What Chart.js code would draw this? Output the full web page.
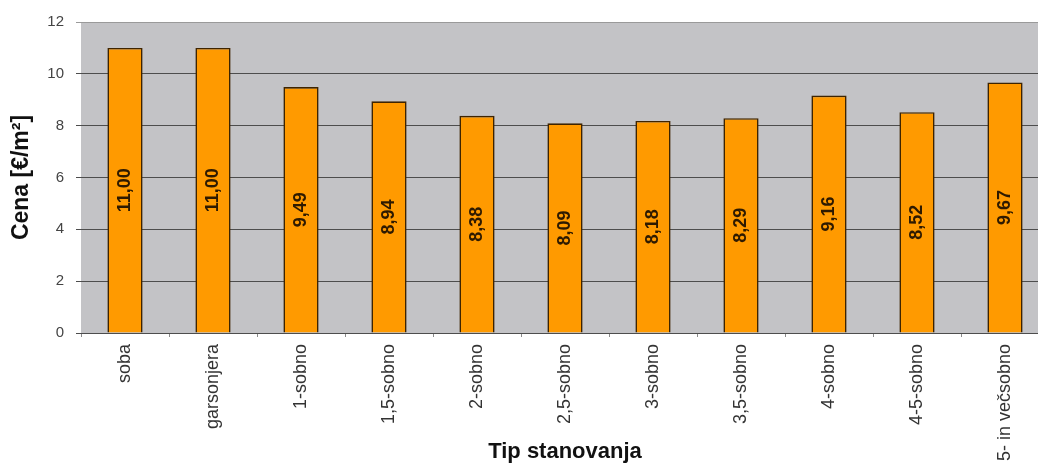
<!DOCTYPE html>
<html>
<head>
<meta charset="utf-8">
<script src="https://cdn.jsdelivr.net/npm/chart.js@4/dist/chart.umd.min.js"></script>
<style>
  html, body { margin: 0; padding: 0; background: #ffffff; overflow: hidden; }
  #wrap { position: relative; width: 1050px; height: 466px; }
</style>
</head>
<body>
<div id="wrap"><canvas id="c"></canvas></div>
<script>
// Apartment types and average price per square metre
const categories = ['soba', 'garsonjera', '1-sobno', '1,5-sobno', '2-sobno', '2,5-sobno',
                    '3-sobno', '3,5-sobno', '4-sobno', '4-5-sobno', '5- in večsobno'];
const prices = [11.00, 11.00, 9.49, 8.94, 8.38, 8.09, 8.18, 8.29, 9.16, 8.52, 9.67];
const yTicks = [0, 2, 4, 6, 8, 10, 12];

const FONT = '"Liberation Sans", Arial, sans-serif';

// Grey plot background
const plotBackground = {
  id: 'plotBackground',
  beforeDraw(chart) {
    const { ctx, chartArea: a } = chart;
    ctx.save();
    ctx.fillStyle = '#c3c3c6';
    ctx.fillRect(a.left, a.top, a.right - a.left, a.bottom - a.top);
    ctx.restore();
  }
};

// Vertical value labels inside each bar
const barValues = {
  id: 'barValues',
  afterDatasetsDraw(chart) {
    const { ctx } = chart;
    const meta = chart.getDatasetMeta(0);
    const data = chart.data.datasets[0].data;
    ctx.save();
    ctx.fillStyle = '#2e1a00';
    ctx.font = 'bold 18px ' + FONT;
    ctx.textAlign = 'center';
    ctx.textBaseline = 'middle';
    meta.data.forEach((bar, i) => {
      const cy = (bar.y + bar.base) / 2;
      ctx.save();
      ctx.translate(bar.x, cy);
      ctx.rotate(-Math.PI / 2);
      ctx.fillText(data[i].toFixed(2).replace('.', ','), 0, 0);
      ctx.restore();
    });
    ctx.restore();
  }
};

new Chart(document.getElementById('c'), {
  type: 'bar',
  data: {
    labels: categories,
    datasets: [{
      data: prices,
      backgroundColor: '#ff9a00',
      borderColor: '#3e2400',
      borderWidth: 1.6,
      barPercentage: 0.4,
      categoryPercentage: 1.0
    }]
  },
  options: {
    responsive: true,
    maintainAspectRatio: false,
    animation: false,
    layout: { padding: { top: 22, right: 1, bottom: 0, left: 0 } },
    plugins: { legend: { display: false }, tooltip: { enabled: false } },
    scales: {
      x: {
        afterFit(scale) { scale.height = 133; },
        grid: {
          offset: true,
          drawOnChartArea: false,
          drawTicks: true,
          tickLength: 4,
          color: '#8a8a8a'
        },
        border: { display: true, color: '#4d4d4d' },
        ticks: {
          autoSkip: false,
          minRotation: 90,
          maxRotation: 90,
          padding: 7,
          color: '#333333',
          font: { family: FONT, size: 18 }
        },
        title: {
          display: true,
          text: 'Tip stanovanja',
          color: '#111111',
          font: { family: FONT, size: 22, weight: 'bold' },
          padding: { top: 0, bottom: 1 }
        }
      },
      y: {
        min: 0,
        max: 12,
        afterFit(scale) { scale.width = 81; },
        afterBuildTicks(scale) { scale.ticks = yTicks.map(v => ({ value: v })); },
        grid: {
          color: (c) => c.tick && c.tick.value === 12 ? '#9a9a9a' : '#4d4d4d',
          lineWidth: 1,
          tickLength: 5
        },
        border: { display: false },
        ticks: {
          padding: 12,
          color: '#444444',
          font: { family: FONT, size: 15 }
        },
        title: {
          display: true,
          text: 'Cena [€/m²]',
          color: '#111111',
          font: { family: FONT, size: 23, weight: 'bold' },
          padding: { top: 8, bottom: 0 }
        }
      }
    }
  },
  plugins: [plotBackground, barValues]
});
</script>
</body>
</html>
